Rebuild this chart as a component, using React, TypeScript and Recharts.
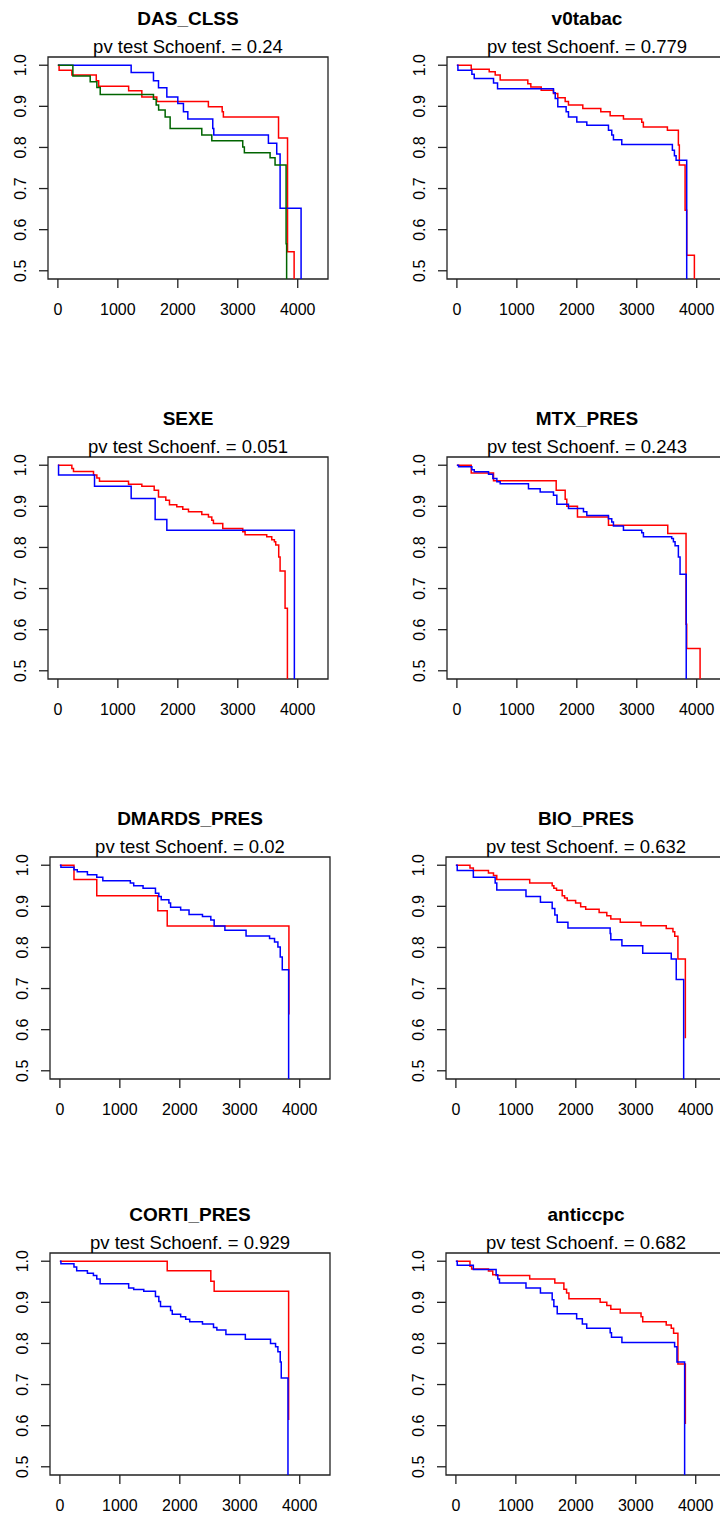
import { LineChart, Line, XAxis, YAxis, ReferenceArea } from 'recharts';

type Pt = [number, number];

// Axis setup shared by all panels (R default look: ylim 0.5..1 with 4% padding)
const X_TICKS = [0, 1000, 2000, 3000, 4000];
const Y_TICKS = [0.5, 0.6, 0.7, 0.8, 0.9, 1.0];
const X_DOMAIN: [number, number] = [-165, 4505];
const Y_DOMAIN: [number, number] = [0.48, 1.02];

const RED = '#FF0000';
const BLUE = '#0000FF';
const GREEN = '#006400';

// Kaplan-Meier steps, [time, survival]
const dasRed: Pt[] = [[0, 1], [20, 0.988], [233, 0.976], [640, 0.962], [680, 0.949], [1180, 0.938], [1400, 0.923], [1650, 0.912], [2510, 0.899], [2740, 0.887], [2760, 0.874], [3680, 0.823], [3830, 0.546], [3940, 0.3]];
const dasBlue: Pt[] = [[0, 1], [1222, 0.982], [1594, 0.962], [1678, 0.945], [1817, 0.923], [2000, 0.907], [2094, 0.887], [2167, 0.869], [2583, 0.846], [2600, 0.83], [3511, 0.81], [3650, 0.784], [3706, 0.652], [4056, 0.3]];
const dasGreen: Pt[] = [[0, 1], [250, 0.974], [539, 0.96], [650, 0.946], [706, 0.929], [1594, 0.917], [1639, 0.903], [1680, 0.891], [1789, 0.874], [1872, 0.846], [2400, 0.83], [2567, 0.816], [3083, 0.801], [3110, 0.787], [3539, 0.775], [3622, 0.757], [3806, 0.566], [3815, 0.3]];

const tabacRed: Pt[] = [[0, 1], [239, 0.99], [539, 0.984], [639, 0.976], [722, 0.964], [1183, 0.955], [1233, 0.947], [1406, 0.939], [1611, 0.931], [1683, 0.921], [1806, 0.912], [1861, 0.903], [2100, 0.895], [2400, 0.887], [2556, 0.877], [2778, 0.869], [3083, 0.861], [3110, 0.85], [3511, 0.842], [3694, 0.806], [3710, 0.757], [3806, 0.647], [3833, 0.538], [3961, 0.3]];
const tabacBlue: Pt[] = [[0, 1], [17, 0.988], [250, 0.978], [289, 0.968], [611, 0.957], [678, 0.943], [1611, 0.933], [1640, 0.919], [1683, 0.899], [1822, 0.887], [1861, 0.874], [2000, 0.862], [2167, 0.854], [2528, 0.842], [2583, 0.83], [2611, 0.819], [2750, 0.807], [3594, 0.793], [3628, 0.78], [3656, 0.769], [3833, 0.3]];

const sexeRed: Pt[] = [[0, 1], [233, 0.992], [260, 0.985], [594, 0.976], [650, 0.969], [694, 0.961], [1178, 0.954], [1400, 0.949], [1606, 0.939], [1678, 0.923], [1800, 0.915], [1861, 0.904], [1983, 0.899], [2083, 0.893], [2178, 0.887], [2400, 0.88], [2511, 0.874], [2567, 0.866], [2594, 0.858], [2750, 0.846], [3083, 0.838], [3122, 0.831], [3483, 0.826], [3567, 0.819], [3611, 0.814], [3633, 0.806], [3683, 0.777], [3706, 0.743], [3789, 0.652], [3828, 0.3]];
const sexeBlue: Pt[] = [[0, 1], [11, 0.976], [611, 0.949], [1222, 0.919], [1622, 0.868], [1817, 0.842], [3944, 0.3]];

const mtxRed: Pt[] = [[0, 1], [239, 0.981], [611, 0.962], [1656, 0.939], [1806, 0.917], [1833, 0.9], [2011, 0.874], [2528, 0.854], [3517, 0.834], [3822, 0.613], [3833, 0.554], [4056, 0.3]];
const mtxBlue: Pt[] = [[0, 1], [28, 0.996], [250, 0.989], [290, 0.984], [528, 0.978], [600, 0.968], [667, 0.96], [722, 0.955], [1194, 0.943], [1389, 0.935], [1611, 0.927], [1667, 0.905], [1861, 0.895], [2111, 0.887], [2167, 0.878], [2528, 0.87], [2583, 0.862], [2611, 0.852], [2778, 0.842], [3083, 0.836], [3111, 0.826], [3583, 0.822], [3611, 0.814], [3639, 0.804], [3694, 0.777], [3722, 0.735], [3825, 0.3]];

const dmardsRed: Pt[] = [[0, 1], [235, 0.965], [615, 0.926], [1633, 0.889], [1790, 0.852], [3820, 0.637]];
const dmardsBlue: Pt[] = [[0, 1], [17, 0.995], [235, 0.989], [290, 0.984], [459, 0.977], [615, 0.971], [716, 0.962], [1175, 0.957], [1231, 0.95], [1387, 0.944], [1594, 0.932], [1650, 0.924], [1690, 0.916], [1818, 0.908], [1846, 0.898], [2014, 0.891], [2154, 0.88], [2378, 0.875], [2517, 0.867], [2573, 0.852], [2752, 0.842], [3105, 0.828], [3497, 0.822], [3580, 0.813], [3636, 0.801], [3675, 0.777], [3709, 0.746], [3815, 0.3]];

const bioRed: Pt[] = [[0, 1], [235, 0.993], [291, 0.987], [543, 0.981], [627, 0.975], [682, 0.965], [1231, 0.957], [1606, 0.95], [1634, 0.944], [1678, 0.939], [1773, 0.926], [1813, 0.92], [1857, 0.914], [1997, 0.908], [2081, 0.899], [2165, 0.893], [2389, 0.885], [2517, 0.877], [2584, 0.869], [2741, 0.861], [3088, 0.853], [3508, 0.846], [3620, 0.838], [3650, 0.827], [3703, 0.772], [3827, 0.579]];
const bioBlue: Pt[] = [[0, 1], [22, 0.987], [291, 0.971], [655, 0.957], [682, 0.94], [1169, 0.924], [1410, 0.91], [1606, 0.895], [1650, 0.879], [1690, 0.861], [1869, 0.847], [2573, 0.834], [2584, 0.819], [2769, 0.804], [3116, 0.786], [3592, 0.772], [3675, 0.722], [3799, 0.3]];

const cortiRed: Pt[] = [[0, 1], [1790, 0.977], [2517, 0.951], [2573, 0.927], [3815, 0.614]];
const cortiBlue: Pt[] = [[0, 1], [17, 0.994], [235, 0.986], [280, 0.977], [459, 0.971], [559, 0.965], [615, 0.957], [671, 0.945], [1147, 0.935], [1231, 0.931], [1399, 0.927], [1594, 0.914], [1650, 0.902], [1678, 0.89], [1846, 0.88], [1874, 0.871], [2014, 0.865], [2098, 0.859], [2165, 0.853], [2378, 0.847], [2562, 0.839], [2618, 0.833], [2769, 0.822], [3093, 0.81], [3513, 0.8], [3597, 0.792], [3636, 0.78], [3675, 0.755], [3692, 0.716], [3804, 0.3]];

const ccpRed: Pt[] = [[0, 1], [235, 0.988], [263, 0.981], [543, 0.976], [615, 0.967], [671, 0.965], [1231, 0.957], [1650, 0.947], [1801, 0.932], [1846, 0.923], [1885, 0.909], [2406, 0.9], [2517, 0.892], [2584, 0.883], [2741, 0.874], [3088, 0.865], [3116, 0.853], [3508, 0.845], [3592, 0.837], [3631, 0.825], [3703, 0.75], [3827, 0.604]];
const ccpBlue: Pt[] = [[0, 1], [22, 0.99], [291, 0.98], [671, 0.967], [699, 0.957], [727, 0.947], [1169, 0.935], [1410, 0.923], [1606, 0.906], [1634, 0.89], [1690, 0.872], [2014, 0.86], [2109, 0.847], [2182, 0.837], [2573, 0.826], [2595, 0.815], [2769, 0.802], [3648, 0.792], [3687, 0.755], [3815, 0.3]];

const TITLES = ['DAS_CLSS', 'v0tabac', 'SEXE', 'MTX_PRES', 'DMARDS_PRES', 'BIO_PRES', 'CORTI_PRES', 'anticcpc'];
const PVALUES = ['0.24', '0.779', '0.051', '0.243', '0.02', '0.632', '0.929', '0.682'];
const SERIES: { pts: Pt[]; color: string }[][] = [
  [{ pts: dasRed, color: RED }, { pts: dasBlue, color: BLUE }, { pts: dasGreen, color: GREEN }],
  [{ pts: tabacRed, color: RED }, { pts: tabacBlue, color: BLUE }],
  [{ pts: sexeRed, color: RED }, { pts: sexeBlue, color: BLUE }],
  [{ pts: mtxRed, color: RED }, { pts: mtxBlue, color: BLUE }],
  [{ pts: dmardsRed, color: RED }, { pts: dmardsBlue, color: BLUE }],
  [{ pts: bioRed, color: RED }, { pts: bioBlue, color: BLUE }],
  [{ pts: cortiRed, color: RED }, { pts: cortiBlue, color: BLUE }],
  [{ pts: ccpRed, color: RED }, { pts: ccpBlue, color: BLUE }],
];

// where each 400x400 panel sits on the page
const PANEL_POS: [number, number][] = [[0, 0], [399, 0], [0, 400], [399, 400], [2, 800], [398, 800], [2, 1196], [398, 1196]];

const FONT = "'Liberation Sans', Arial, sans-serif";

function XTick({ x, y, payload }: any) {
  return (
    <text x={x} y={y + 25} textAnchor="middle" fontSize={16} fontFamily={FONT} fill="#000">
      {payload.value}
    </text>
  );
}

function YTick({ x, y, payload }: any) {
  const tx = x - 11;
  return (
    <text x={tx} y={y} transform={`rotate(-90 ${tx} ${y})`} textAnchor="middle" fontSize={16} fontFamily={FONT} fill="#000">
      {Number(payload.value).toFixed(1)}
    </text>
  );
}

function KMPanel({ idx }: { idx: number }) {
  const [left, top] = PANEL_POS[idx];
  return (
    <div style={{ position: 'absolute', left, top, width: 400, height: 400 }}>
      <LineChart width={400} height={400} margin={{ top: 57, right: 72, bottom: 91, left: 8 }}>
        <XAxis
          type="number"
          dataKey="t"
          domain={X_DOMAIN}
          ticks={X_TICKS}
          interval={0}
          allowDataOverflow
          axisLine={false}
          tickSize={9}
          tickMargin={2}
          tickLine={{ stroke: '#222', strokeWidth: 1.3 }}
          tick={<XTick />}
          height={30}
        />
        <YAxis
          type="number"
          dataKey="s"
          domain={Y_DOMAIN}
          ticks={Y_TICKS}
          interval={0}
          allowDataOverflow
          axisLine={false}
          tickSize={9}
          tickMargin={2}
          tickLine={{ stroke: '#222', strokeWidth: 1.3 }}
          tick={<YTick />}
          width={40}
        />
        {SERIES[idx].map((s, i) => (
          <Line
            key={i}
            data={s.pts.map(([t, v]) => ({ t, s: v }))}
            dataKey="s"
            type="stepAfter"
            stroke={s.color}
            strokeWidth={1.5}
            dot={false}
            activeDot={false}
            isAnimationActive={false}
          />
        ))}
        <ReferenceArea
          x1={X_DOMAIN[0]}
          x2={X_DOMAIN[1]}
          y1={Y_DOMAIN[0]}
          y2={Y_DOMAIN[1]}
          fill="none"
          stroke="#222"
          strokeWidth={1.3}
          ifOverflow="visible"
        />
      </LineChart>
      <svg width={400} height={60} style={{ position: 'absolute', left: 0, top: 0, pointerEvents: 'none' }}>
        <text x={188} y={25} textAnchor="middle" fontSize={19} fontWeight="bold" fontFamily={FONT} fill="#000">
          {TITLES[idx]}
        </text>
        <text x={188} y={53} textAnchor="middle" fontSize={18.5} fontFamily={FONT} fill="#000">
          {`pv test Schoenf. = ${PVALUES[idx]}`}
        </text>
      </svg>
    </div>
  );
}

export default function App() {
  return (
    <div style={{ position: 'absolute', left: 0, top: 0, width: 720, height: 1515, overflow: 'hidden', background: '#fff' }}>
      {TITLES.map((_, i) => (
        <KMPanel key={i} idx={i} />
      ))}
    </div>
  );
}
